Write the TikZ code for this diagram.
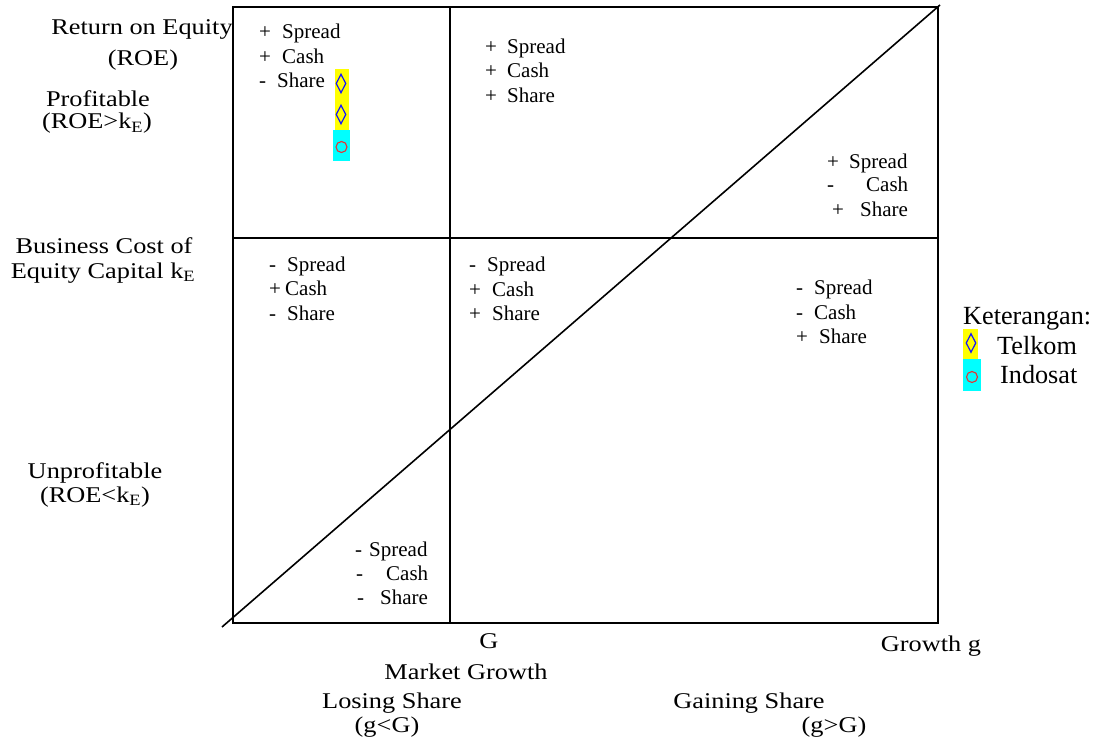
\documentclass[tikz,border=0pt]{standalone}
\usepackage{fontspec}
\setmainfont{Liberation Serif}
\newfontfamily\widefont[FakeStretch=1.17]{Liberation Serif}
\usetikzlibrary{shapes.geometric}
\definecolor{mkblue}{RGB}{20,20,255}
\definecolor{mkred}{RGB}{230,50,50}
\definecolor{bgyellow}{RGB}{255,255,0}
\definecolor{bgcyan}{RGB}{0,255,255}
\newcommand{\sw}[3]{\rlap{#1}\hspace{#2pt}#3}
\begin{document}
\begin{tikzpicture}[x=1pt,y=-1pt,
  boxline/.style={line width=2.2pt},
  divline/.style={line width=1.8pt},
  diagline/.style={line width=1.6pt},
  item/.style={anchor=base west, inner sep=0pt, font=\fontsize{21}{24}\selectfont},
  axlabel/.style={anchor=base, inner sep=0pt, font=\widefont\fontsize{22.5}{26}\selectfont},
  legtext/.style={anchor=base west, inner sep=0pt, font=\fontsize{26.2}{30}\selectfont},
  telkombg/.style={fill=bgyellow, draw=none},
  indosatbg/.style={fill=bgcyan, draw=none},
  telkommark/.style={diamond, draw=mkblue, line width=1.2pt, inner sep=0pt, minimum width=10pt, minimum height=19pt},
  indosatmark/.style={circle, draw=mkred, line width=1.1pt, inner sep=0pt, minimum size=11pt},
]
\useasboundingbox (0,0) rectangle (1096,749);

% frame and dividers
\draw[boxline] (233,7) rectangle (938,623);
\draw[divline] (450,7) -- (450,623);
\draw[divline] (233,238) -- (938,238);
\coordinate (d0) at (222,627);
\coordinate (d1) at (940,5);
\draw[diagline] (d0) -- (d1);

% top-left quadrant
\node[item] (tl1) at (259,39) {\sw{+}{23}{Spread}};
\node[item] (tl2) at (259,64) {\sw{+}{23}{Cash}};
\node[item] (tl3) at (259,88) {\sw{-}{18}{Share}};
% top-middle
\node[item] (tm1) at (485,54) {\sw{+}{22}{Spread}};
\node[item] (tm2) at (485,78) {\sw{+}{22}{Cash}};
\node[item] (tm3) at (485,103) {\sw{+}{22}{Share}};
% top-right
\node[item] (tr1) at (827,169) {\sw{+}{22}{Spread}};
\node[item] (tr2) at (827,192) {\sw{-}{39}{Cash}};
\node[item] (tr3) at (832,217) {\sw{+}{28}{Share}};
% middle-left
\node[item] (ml1) at (269,271) {\sw{-}{18}{Spread}};
\node[item] (ml2) at (269,295) {\sw{+}{16}{Cash}};
\node[item] (ml3) at (269,320) {\sw{-}{18}{Share}};
% middle-middle
\node[item] (mm1) at (469,271) {\sw{-}{18}{Spread}};
\node[item] (mm2) at (469,296) {\sw{+}{23}{Cash}};
\node[item] (mm3) at (469,320) {\sw{+}{23}{Share}};
% middle-right
\node[item] (mr1) at (796,294) {\sw{-}{18}{Spread}};
\node[item] (mr2) at (796,319) {\sw{-}{18}{Cash}};
\node[item] (mr3) at (796,343) {\sw{+}{23}{Share}};
% bottom
\node[item] (b1) at (355,556) {\sw{-}{14}{Spread}};
\node[item] (b2) at (356,580) {\sw{-}{30}{Cash}};
\node[item] (b3) at (357,604) {\sw{-}{23}{Share}};

% markers in top-left quadrant
\node[telkombg, minimum width=14pt, minimum height=61pt, inner sep=0pt] (ybg) at (342,99.5) {};
\node[indosatbg, minimum width=17pt, minimum height=31pt, inner sep=0pt] (cbg) at (341.5,145.5) {};
\node[telkommark] (tk1) at (341,83.5) {};
\node[telkommark] (tk2) at (341,114.5) {};
\node[indosatmark] (is1) at (341.5,147) {};

% left axis labels
\node[axlabel] (roe1) at (142,35) {Return on Equity};
\node[axlabel] (roe2) at (143,66) {(ROE)};
\node[axlabel] (prof1) at (98,107) {Profitable};
\node[axlabel] (prof2) at (97,129) {(ROE>k\textsubscript{E})};
\node[axlabel] (bc1) at (104,253) {Business Cost of};
\node[axlabel] (bc2) at (103,278) {Equity Capital k\textsubscript{E}};
\node[axlabel] (unp1) at (95,478) {Unprofitable};
\node[axlabel] (unp2) at (95,502) {(ROE<k\textsubscript{E})};

% bottom labels
\node[axlabel] (gG) at (489,648) {G};
\node[axlabel] (mg) at (466,679) {Market Growth};
\node[axlabel] (ls1) at (392,708) {Losing Share};
\node[axlabel] (ls2) at (387,732) {(g<G)};
\node[axlabel] (gg) at (931,651) {Growth g};
\node[axlabel] (gs1) at (749,708) {Gaining Share};
\node[axlabel] (gs2) at (834,732) {(g>G)};

% legend
\node[legtext] (leg) at (963,324) {Keterangan:};
\node[telkombg, minimum width=15pt, minimum height=30pt, inner sep=0pt] (lyb) at (970.5,344) {};
\node[indosatbg, minimum width=18pt, minimum height=32pt, inner sep=0pt] (lcb) at (972,375) {};
\node[telkommark] (ltk) at (971,343) {};
\node[indosatmark] (lis) at (972,377) {};
\node[legtext] (legt) at (997,354) {Telkom};
\node[legtext] (legi) at (1000,383) {Indosat};
\end{tikzpicture}
\end{document}
